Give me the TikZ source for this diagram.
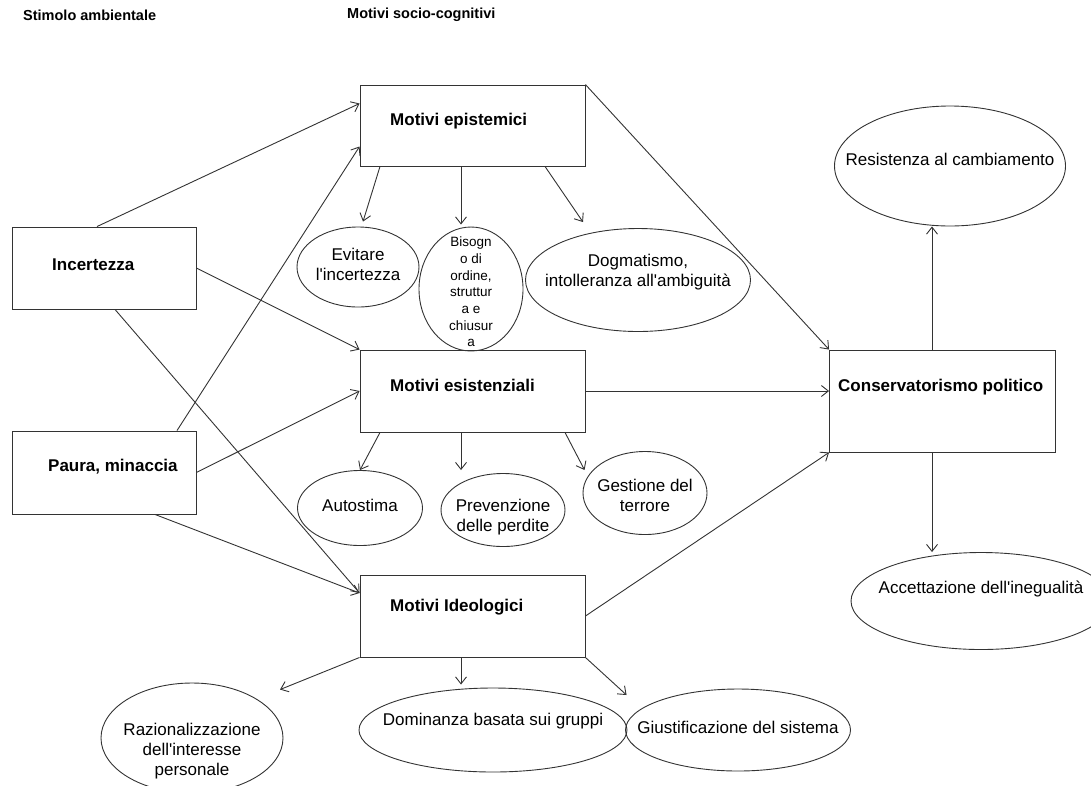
\documentclass[tikz,border=0pt]{standalone}
\usepackage{fontspec}
\setmainfont{Liberation Sans}[Ligatures=TeXOff]
\usetikzlibrary{shapes.geometric,arrows.meta}

% text of an oval: takes no room, raised by #1
\newcommand{\ovtext}[2][0pt]{\smash{\makebox[0pt]{\raisebox{\dimexpr#1-4pt\relax}{\begin{tabular}{@{}c@{}}#2\end{tabular}}}}}

\begin{document}
\begin{tikzpicture}[x=1pt,y=-1pt,
    line/.style={draw=black!80,line width=0.9pt},
    arr/.style={line,-{Straight Barb[length=7pt,width=11pt]}},
    box/.style={line,minimum width=225pt,minimum height=82pt,inner sep=0pt},
    oval/.style={ellipse,line,inner sep=0pt,font=\fontsize{17}{20}\selectfont},
    lbl/.style={anchor=west,inner sep=0pt,font=\bfseries\fontsize{17}{20}\selectfont},
    head/.style={anchor=west,inner sep=0pt,font=\bfseries\fontsize{14.5}{17}\selectfont}]
\useasboundingbox (0,0) rectangle (1091,785);

% column heads
\node[head] (hstim) at (23,15) {Stimolo ambientale};
\node[head] (hmot) at (347,15) {Motivi socio-cognitivi};

% boxes
\node[box,minimum width=184pt] (incert) at (104,268) {};
\node[box,minimum width=184pt,minimum height=83pt] (paura) at (104,472.5) {};
\node[box,minimum height=81pt] (epist) at (472.5,125.5) {};
\node[box] (esist) at (472.5,391) {};
\node[box] (ideol) at (472.5,616) {};
\node[box,minimum width=226pt,minimum height=102pt] (cons) at (942.5,401) {};

\node[lbl] (incertT) at (52,265) {Incertezza};
\node[lbl] (pauraT) at (48,467) {Paura, minaccia};
\node[lbl] (epistT) at (390,121) {Motivi epistemici};
\node[lbl] (esistT) at (390,385) {Motivi esistenziali};
\node[lbl] (ideolT) at (390,607) {Motivi Ideologici};
\node[lbl] (consT) at (838,387) {Conservatorismo politico};

% ovals
\node[oval,minimum width=122pt,minimum height=80pt] (evit) at (358,267) {\ovtext{Evitare\\l'incertezza}};
\node[oval,minimum width=104pt,minimum height=124pt,font=\fontsize{13.5}{16.7}\selectfont] (bisog) at (471,289)
    {\ovtext[-4pt]{Bisogn\\o di\\ordine,\\struttur\\a e\\chiusur\\a}};
\node[oval,minimum width=225pt,minimum height=103pt] (dogma) at (638,280) {\ovtext[7pt]{Dogmatismo,\\intolleranza all'ambiguità}};
\node[oval,minimum width=125pt,minimum height=75pt] (auto) at (360,508) {\ovtext{Autostima}};
\node[oval,minimum width=124pt,minimum height=73pt] (prev) at (503,510) {\ovtext[-8pt]{Prevenzione\\delle perdite}};
\node[oval,minimum width=124pt,minimum height=83pt] (gest) at (645,493) {\ovtext[-5pt]{Gestione del\\terrore}};
\node[oval,minimum width=182pt,minimum height=110pt] (razio) at (192,738) {\ovtext[-14pt]{Razionalizzazione\\dell'interesse\\personale}};
\node[oval,minimum width=268pt,minimum height=84pt] (domin) at (493,730) {\ovtext[8pt]{Dominanza basata sui gruppi}};
\node[oval,minimum width=225pt,minimum height=82pt] (giust) at (738,730) {\ovtext{Giustificazione del sistema}};
\node[oval,minimum width=231pt,minimum height=120pt] (resist) at (950,166) {\ovtext[4pt]{Resistenza al cambiamento}};
\node[oval,minimum width=260pt,minimum height=97pt] (accett) at (981,601) {\ovtext[11pt]{Accettazione dell'inegualità}};

% stimuli to motives
\draw[arr] ([xshift=-7pt]incert.north) -- ([yshift=22pt]epist.west);
\draw[arr] (incert.east) -- (esist.north west);
\draw[arr] ([xshift=11pt]incert.south) -- ([yshift=23pt]ideol.west);
\draw[arr] ([xshift=73pt]paura.north) -- ([yshift=-21pt]epist.west);
\draw[arr] (paura.east) -- (esist.west);
\draw[arr] ([xshift=51pt]paura.south) -- ([yshift=23pt]ideol.west);

% motives to their ovals
\draw[arr] ([xshift=-92.5pt]epist.south) -- ([xshift=5pt,yshift=5pt]evit.north);
\draw[arr,shorten >=2pt] ([xshift=-11.5pt]epist.south) -- ([xshift=-11.5pt]epist.south |- bisog.north);
\draw[arr] ([xshift=72.5pt]epist.south) -- ([xshift=-55pt,yshift=6pt]dogma.north);
\draw[arr] ([xshift=-92.5pt]esist.south) -- (auto.north);
\draw[arr,shorten >=3pt] ([xshift=-11.5pt]esist.south) -- ([xshift=-11.5pt]esist.south |- prev.north);
\draw[arr] ([xshift=92.5pt]esist.south) -- ([xshift=2pt,yshift=23pt]gest.west);
\draw[arr] (ideol.south west) -- ([xshift=88pt,yshift=-7pt]razio.north);
\draw[arr,shorten >=3pt] ([xshift=-11.5pt]ideol.south) -- ([xshift=-11.5pt]ideol.south |- domin.north);
\draw[arr] (ideol.south east) -- ([xshift=1.5pt,yshift=35pt]giust.west);

% motives to conservatism
\draw[arr] (epist.north east) -- (cons.north west);
\draw[arr] (esist.east) -- (esist.east -| cons.west);
\draw[arr] (ideol.east) -- (cons.south west);
\draw[arr] ([xshift=-10.5pt]cons.north) -- ([xshift=-10.5pt]cons.north |- resist.south);
\draw[arr] ([xshift=-10.5pt]cons.south) -- ([xshift=-10.5pt]cons.south |- accett.north);
\end{tikzpicture}
\end{document}
